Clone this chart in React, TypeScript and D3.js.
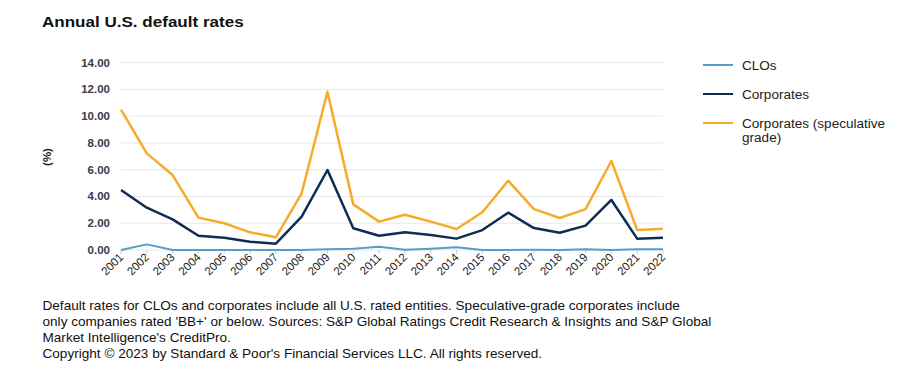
import React from "react";
import * as d3 from "d3";

const years = ["2001","2002","2003","2004","2005","2006","2007","2008","2009","2010","2011","2012","2013","2014","2015","2016","2017","2018","2019","2020","2021","2022"];
const clos = [0.0,0.42,0.0,0.0,0.0,0.0,0.0,0.0,0.05,0.1,0.25,0.02,0.1,0.2,0.0,0.0,0.02,0.0,0.05,0.0,0.05,0.05];
const corporates = [4.48,3.16,2.29,1.07,0.92,0.62,0.47,2.49,5.98,1.62,1.07,1.32,1.12,0.85,1.49,2.79,1.64,1.29,1.82,3.74,0.85,0.92];
const speculative = [10.5,7.22,5.6,2.42,2.0,1.32,0.95,4.24,11.83,3.41,2.12,2.64,2.12,1.57,2.82,5.18,3.06,2.39,3.06,6.65,1.49,1.59];
const yTicks = [0,2,4,6,8,10,12,14];
const seriesNames = ["CLOs", "Corporates", "Corporates (speculative grade)"];
const title = "Annual U.S. default rates";
const footnote = [
  "Default rates for CLOs and corporates include all U.S. rated entities. Speculative-grade corporates include",
  "only companies rated 'BB+' or below. Sources: S&P Global Ratings Credit Research & Insights and S&P Global",
  "Market Intelligence's CreditPro.",
  "Copyright \u00a9 2023 by Standard & Poor's Financial Services LLC. All rights reserved.",
];

const colors = ["#5b9bc8", "#0d2d54", "#f7ab2a"];
const widths = [2, 2.5, 2.5];

export default function App() {
  const left = 121, right = 663, top = 62.7, bottom = 250;
  const x = d3.scalePoint<string>().domain(years).range([left, right]);
  const y = d3.scaleLinear().domain([0, 14]).range([bottom, top]);
  const data = [clos, corporates, speculative];
  const line = d3.line<number>().x((_, i) => x(years[i]) as number).y((d) => y(d));
  const font = "'Liberation Sans', Arial, sans-serif";

  return (
    <svg width={903} height={376} style={{ position: "absolute", left: 0, top: 0, background: "#fff" }} fontFamily={font}>
      <rect x={0} y={0} width={903} height={376} fill="#fff" />
      <text transform="translate(42,27) scale(1.1,1)" fontSize={15.5} fontWeight="bold" fill="#111">{title}</text>
      {yTicks.map((t) => (
        <g key={t}>
          <line x1={left} x2={right} y1={y(t)} y2={y(t)} stroke="#e8e8e8" strokeWidth={1} />
          <text x={110} y={y(t) + 4} fontSize={11.5} fontWeight="bold" fill="#3a3a4a" textAnchor="end">{t.toFixed(2)}</text>
        </g>
      ))}
      <text transform={`translate(51,157) rotate(-90)`} fontSize={11.5} fontWeight="bold" fill="#222" textAnchor="middle">(%)</text>
      {years.map((yr) => (
        <g key={yr}>
          <line x1={x(yr)} x2={x(yr)} y1={bottom} y2={bottom + 4} stroke="#ccc" />
          <text transform={`translate(${(x(yr) as number) + 3},${bottom + 8}) rotate(-45)`} fontSize={11.5} fill="#222" textAnchor="end">{yr}</text>
        </g>
      ))}
      {data.map((d, i) => (
        <path key={i} d={line(d) || ""} fill="none" stroke={colors[i]} strokeWidth={widths[i]} strokeLinejoin="round" />
      ))}
      {seriesNames.map((n, i) => {
        const ly = 65 + i * 29;
        const words = i === 2 ? ["Corporates (speculative", "grade)"] : [n];
        return (
          <g key={n}>
            <line x1={703} x2={733} y1={ly} y2={ly} stroke={colors[i]} strokeWidth={2} />
            {words.map((w, j) => (
              <text key={j} transform={`translate(742,${ly + 4.5 + j * 14}) scale(1.13,1)`} fontSize={12} fill="#222">{w}</text>
            ))}
          </g>
        );
      })}
      {footnote.map((f, i) => (
        <text key={i} transform={`translate(42.5,${309.5 + i * 16.2}) scale(1.133,1)`} fontSize={12} fill="#111">{f}</text>
      ))}
    </svg>
  );
}
